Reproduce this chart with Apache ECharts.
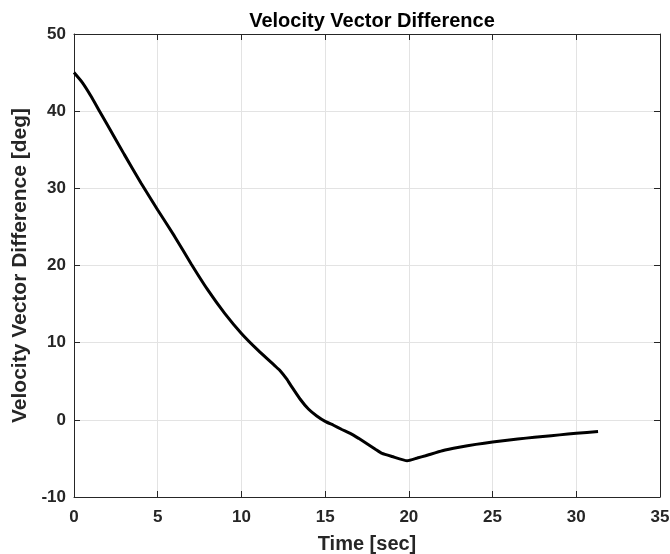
<!DOCTYPE html>
<html>
<head>
<meta charset="utf-8">
<script src="https://cdn.jsdelivr.net/npm/echarts@6/dist/echarts.min.js"></script>
<style>
    html, body { margin: 0; padding: 0; background: #fff; }
    #chart { width: 670px; height: 554px; }
</style>
</head>
<body>
<div id="chart"></div>
<script>
// 时间 [sec]
var timeSec = [0, 0.5, 1, 1.5, 2, 3, 4, 5, 6, 7, 8, 9, 10, 11, 12, 12.3, 12.7, 13, 13.5, 14, 14.5, 15,
    15.5, 16, 16.5, 17, 17.5, 18, 18.4, 19, 19.9, 20.5, 21, 22, 23, 24, 25, 26, 27, 28, 29, 30, 31.3];
// 速度矢量差 [deg]
var velDiff = [45.0, 43.7, 42.0, 40.1, 38.2, 34.4, 30.7, 27.2, 23.8, 20.2, 16.8, 13.8, 11.2, 9.0, 7.0, 6.4, 5.3, 4.3, 2.7, 1.4, 0.5, -0.2,
    -0.7, -1.25, -1.75, -2.4, -3.1, -3.8, -4.35, -4.75, -5.3, -4.95, -4.65, -4.0, -3.55, -3.18, -2.87, -2.6, -2.37, -2.15, -1.95, -1.75, -1.52];
var xTicks = [0, 5, 10, 15, 20, 25, 30, 35];
var yTicks = [-10, 0, 10, 20, 30, 40, 50];

var myChart = echarts.init(document.getElementById('chart'));

function getPoints() {
    var arr = [];
    for (var i = 0; i < timeSec.length; i++) {
        arr.push([timeSec[i], velDiff[i]]);
    }
    return arr;
}

var textColor = '#262626';
var fontFam = '"Liberation Sans", Arial, sans-serif';

var option = {
    animation: false,
    backgroundColor: '#fff',
    title: {
        text: 'Velocity Vector Difference',
        left: 367,
        top: 6,
        textAlign: 'center',
        textStyle: { fontSize: 20, fontWeight: 'bold', color: '#000', fontFamily: fontFam }
    },
    grid: {
        left: 74,
        right: 10,
        top: 34,
        bottom: 57,
        containLabel: false,
        outerBoundsMode: 'none'
    },
    xAxis: [
        {
            type: 'value',
            min: xTicks[0],
            max: xTicks[xTicks.length - 1],
            interval: 5,
            name: 'Time [sec]',
            nameLocation: 'middle',
            nameGap: 37,
            nameTextStyle: { fontSize: 20, fontWeight: 'bold', color: textColor, fontFamily: fontFam },
            axisLine: { show: true, onZero: false, lineStyle: { color: textColor, width: 1 } },
            axisTick: { show: true, inside: true, length: 6, lineStyle: { color: textColor } },
            axisLabel: { fontSize: 17, fontWeight: 'bold', color: textColor, fontFamily: fontFam, margin: 12 },
            splitLine: { show: true, lineStyle: { color: '#e3e3e3', width: 1 } }
        },
        {
            type: 'value',
            position: 'top',
            min: xTicks[0],
            max: xTicks[xTicks.length - 1],
            interval: 5,
            axisLine: { show: true, onZero: false, lineStyle: { color: textColor, width: 1 } },
            axisTick: { show: true, inside: true, length: 6, lineStyle: { color: textColor } },
            axisLabel: { show: false },
            splitLine: { show: false }
        }
    ],
    yAxis: [
        {
            type: 'value',
            min: yTicks[0],
            max: yTicks[yTicks.length - 1],
            interval: 10,
            name: 'Velocity Vector Difference [deg]',
            nameLocation: 'middle',
            nameGap: 33,
            nameTextStyle: { fontSize: 21, fontWeight: 'bold', color: textColor, fontFamily: fontFam },
            axisLine: { show: true, onZero: false, lineStyle: { color: textColor, width: 1 } },
            axisTick: { show: true, inside: true, length: 6, lineStyle: { color: textColor } },
            axisLabel: { fontSize: 17, fontWeight: 'bold', color: textColor, fontFamily: fontFam, margin: 8 },
            splitLine: { show: true, lineStyle: { color: '#e3e3e3', width: 1 } }
        },
        {
            type: 'value',
            position: 'right',
            min: yTicks[0],
            max: yTicks[yTicks.length - 1],
            interval: 10,
            axisLine: { show: true, onZero: false, lineStyle: { color: textColor, width: 1 } },
            axisTick: { show: true, inside: true, length: 6, lineStyle: { color: textColor } },
            axisLabel: { show: false },
            splitLine: { show: false }
        }
    ],
    series: [
        {
            name: 'Velocity Vector Difference',
            type: 'line',
            xAxisIndex: 0,
            yAxisIndex: 0,
            data: getPoints(),
            smooth: 0.15,
            showSymbol: false,
            lineStyle: { color: '#000', width: 3 }
        }
    ]
};
myChart.setOption(option);
</script>
</body>
</html>
